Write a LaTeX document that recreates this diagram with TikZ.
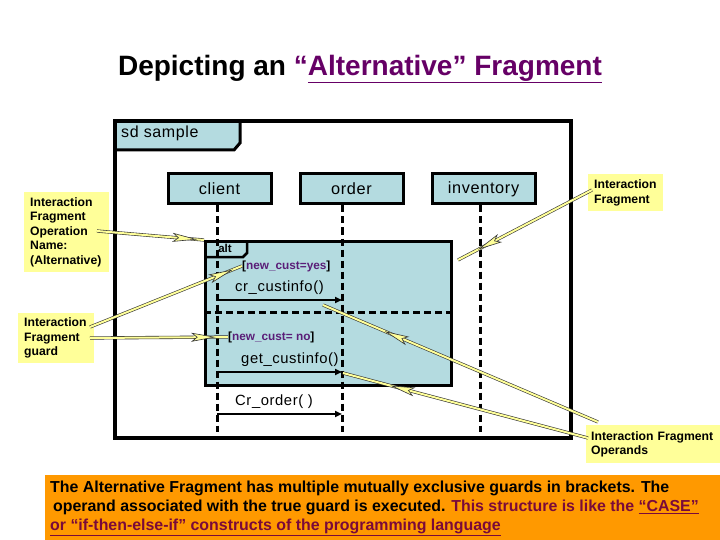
\documentclass[tikz,border=0pt]{standalone}
\usepackage{fontspec}
\setmainfont{Liberation Sans}
\newfontfamily\spacedsans{Liberation Sans}[LetterSpace=4]
\usetikzlibrary{decorations.markings,arrows.meta}
\definecolor{lblue}{RGB}{180,219,224}
\definecolor{notey}{RGB}{255,255,153}
\definecolor{orng}{RGB}{255,153,0}
\definecolor{purp}{RGB}{102,0,102}
\definecolor{guardc}{RGB}{90,30,120}
\definecolor{maroonc}{RGB}{122,10,58}
\begin{document}
\begin{tikzpicture}[x=1pt,y=-1pt,
  every node/.style={inner sep=0pt},
  partbox/.style={draw, line width=3pt, fill=lblue, minimum width=103pt, minimum height=30pt, font=\spacedsans\fontsize{16.3}{20}\selectfont},
  lifeline/.style={line width=3pt, dash pattern=on 7pt off 4pt},
  msgtext/.style={font=\spacedsans\fontsize{14.8}{18}\selectfont, anchor=west},
  msgarrow/.style={line width=1.6pt, -{Triangle[length=7pt,width=6pt]}},
  guardtext/.style={font=\bfseries\fontsize{11.8}{13}\selectfont, anchor=west},
  notebox/.style={fill=notey, font=\bfseries\fontsize{12.2}{14.5}\selectfont, align=left, anchor=north west, inner xsep=6pt, inner ysep=3pt},
  callout/.style={draw=black!80, line width=0.6pt, double=notey, double distance=2pt},
  chead/.style={decorate, decoration={markings, mark=at position #1 with {\filldraw[fill=notey, draw=black!80, line width=0.6pt] (-22pt,4pt) -- (0pt,0pt) -- (-22pt,-4pt) -- (-17pt,0pt) -- cycle;}}}
]
\useasboundingbox (0,0) rectangle (720,540);

% title
\node[font=\bfseries\fontsize{28}{32}\selectfont] (title) at (360,69) {Depicting an {\color{purp}“\underline{Alternative” Fragment}}};

% sd frame
\filldraw[fill=lblue, line width=3pt] (115,121) -- (240,121) -- (240,143) -- (234,150) -- (115,150);
\draw[line width=3.5pt] (115,121) rectangle (571,438);
\node[anchor=west, font=\spacedsans\fontsize{16}{19}\selectfont] (sdlbl) at (121,133) {sd sample};

% participants
\node[partbox] (client) at (219.5,189) {client};
\node[partbox] (order) at (351.5,189) {order};
\node[partbox] (inventory) at (483.5,189) {inventory};

% alt fragment
\node[draw, fill=lblue, line width=3pt, anchor=north west, minimum width=246pt, minimum height=144pt] (alt) at (204,240) {};
\draw[line width=2.5pt] (204,257) -- (243,257) -- (247,253) -- (247,240);
\node[font=\bfseries\fontsize{11.5}{13}\selectfont] (altlbl) at (225,248.5) {alt};
\coordinate (divy) at (0,312);
\draw[lifeline] (alt.west |- divy) -- (alt.east |- divy);

% lifelines
\coordinate (cl) at (217,432);
\coordinate (ol) at (342,432);
\coordinate (il) at (480,432);
\draw[lifeline] (client.south -| cl) -- (cl);
\draw[lifeline] (order.south -| ol) -- (ol);
\draw[lifeline] (inventory.south -| il) -- (il);

% guards and messages
\node[guardtext] (g1) at (242,266) {[\textcolor{guardc}{new\_cust=yes}]};
\node[guardtext] (g2) at (228,337) {[\textcolor{guardc}{new\_cust= no}]};
\coordinate (y1) at (0,300);
\coordinate (y2) at (0,372);
\coordinate (y3) at (0,414);
\node[msgtext] (m1) at (235,288) {cr\_custinfo()};
\node[msgtext] (m2) at (241,360) {get\_custinfo()};
\node[msgtext] (m3) at (235,402) {Cr\_order( )};
\draw[msgarrow] (cl |- y1) -- (ol |- y1);
\draw[msgarrow] (cl |- y2) -- (ol |- y2);
\draw[msgarrow, line width=2.8pt] (cl |- y3) -- (ol |- y3);

% notes
\node[notebox, text width=73pt, minimum height=80pt] (opname) at (24,192) {Interaction\\Fragment\\Operation\\Name:\\(Alternative)};
\node[notebox, text width=64pt, minimum height=50pt] (guardnote) at (18,313) {Interaction\\Fragment\\guard};
\node[notebox, text width=63pt, minimum height=37pt] (fragnote) at (588,174) {Interaction\\Fragment};
\node[notebox, inner xsep=5pt, text width=124pt, minimum height=38pt] (opnote) at (586,425) {Interaction Fragment\\Operands};

% description
\node[fill=orng, anchor=north west, minimum width=675pt, minimum height=65pt] (descbox) at (45,475) {};
\node[anchor=north west, align=left, font=\bfseries\fontsize{15.9}{19}\selectfont] (desc) at (50,481) {The Alternative Fragment has multiple mutually exclusive guards in brackets. The\\
\hspace{3pt}operand associated with the true guard is executed. {\color{maroonc}This structure is like the \underline{“CASE”}}\\
{\color{maroonc}\underline{or “if-then-else-if” constructs of the programming language}}};

% callouts
\coordinate (c1s) at (97,231);
\coordinate (c2s) at (90,327);
\coordinate (c3s) at (90,338);
\coordinate (c4s) at (592,190);
\coordinate (c4e) at (458,260);
\coordinate (c5s) at (598,422);
\coordinate (c5e) at (323,305);
\coordinate (c6s) at (588,438);
\coordinate (c6e) at (343,373);
\draw[callout] (c1s) -- (alt.north west);
\path[chead=0.92] (c1s) -- (alt.north west);
\draw[callout] (c2s) -- (g1.west);
\path[chead=0.93] (c2s) -- (g1.west);
\draw[callout] (c3s) -- (g2.west);
\path[chead=0.9] (c3s) -- (g2.west);
\draw[callout] (c4s) -- (c4e);
\path[chead=0.84] (c4s) -- (c4e);
\draw[callout] (c5s) -- (c5e);
\path[chead=0.77] (c5s) -- (c5e);
\draw[callout] (c6s) -- (c6e);
\path[chead=0.8] (c6s) -- (c6e);
\end{tikzpicture}
\end{document}
